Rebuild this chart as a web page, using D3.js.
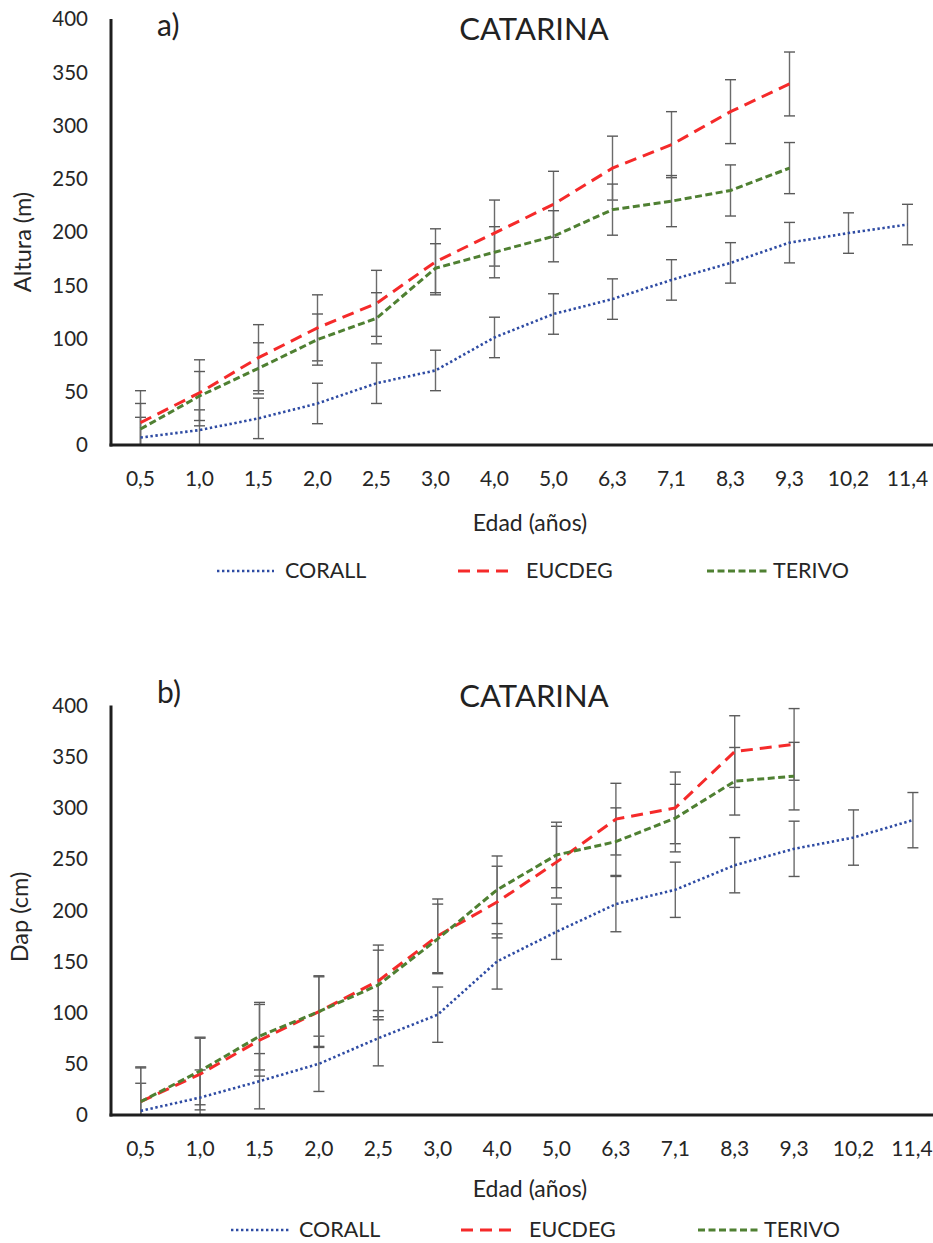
<!DOCTYPE html>
<html><head><meta charset="utf-8">
<script src="https://cdn.jsdelivr.net/npm/d3@7/dist/d3.min.js"></script>
<style>
body{margin:0;background:#fff;}
svg{display:block;font-family:Lato,"Open Sans",sans-serif;}
</style></head>
<body>
<svg id="chart" width="933" height="1243"></svg>
<script>
// ---- data ----
const ages = ["0,5","1,0","1,5","2,0","2,5","3,0","4,0","5,0","6,3","7,1","8,3","9,3","10,2","11,4"];
const seriesNames = ["CORALL","EUCDEG","TERIVO"];
const yTicks = [0,50,100,150,200,250,300,350,400];

// a) Altura
const alturaCORALL = [7,14,25,39,58,70,101,123,137,155,171,190,199,207];
const alturaCORALLerr = [19,19,19,19,19,19,19,19,19,19,19,19,19,19];
const alturaEUCDEG = [21,49,82,110,133,172,199,226,260,282,313,339];
const alturaEUCDEGerr = [30,31,31,31,31,31,31,31,30,31,30,30];
const alturaTERIVO = [15,46,72,99,119,166,181,196,221,229,239,260];
const alturaTERIVOerr = [24,23,24,24,24,23,24,24,24,24,24,24];

// b) Dap
const dapCORALL = [4,17,33,50,75,98,150,179,206,220,244,260,271,288];
const dapCORALLerr = [27,27,27,27,27,27,27,27,27,27,27,27,27,27];
const dapEUCDEG = [13,40,73,101,131,175,208,247,289,300,355,362];
const dapEUCDEGerr = [34,35,35,35,35,36,35,35,35,35,35,35];
const dapTERIVO = [13,43,77,101,127,172,220,254,267,290,326,331];
const dapTERIVOerr = [33,33,33,34,34,34,33,32,33,33,33,33];

const styles = {
  CORALL:{color:"#2E4BA3", dash:"2.4 2.6", width:2.6},
  EUCDEG:{color:"#F52A2A", dash:"12 7", width:3},
  TERIVO:{color:"#4F8032", dash:"7 3.5", width:3}
};

const svg = d3.select("#chart");

function drawChart(cfg){
  const g = svg.append("g");
  const x = d3.scaleBand().domain(ages).range([cfg.x0, cfg.x0 + cfg.step*ages.length]).paddingInner(0).paddingOuter(0);
  const y = d3.scaleLinear().domain([0,400]).range([cfg.yBottom, cfg.yTop]);
  const cx = d => x(d) + x.bandwidth()/2;

  // y tick labels
  g.selectAll(".yt").data(yTicks).enter().append("text")
    .attr("x", cfg.x0 - 23).attr("y", d => y(d)).attr("dy","0.36em")
    .attr("text-anchor","end").attr("font-size",20.5).attr("fill","#262626")
    .text(d => d);

  // x tick labels
  g.selectAll(".xt").data(ages).enter().append("text")
    .attr("x", d => Math.min(cx(d), 933 - 21)).attr("y", cfg.xTickY)
    .attr("text-anchor","middle").attr("font-size",21).attr("fill","#262626")
    .text(d => d);

  // error bars
  const series = cfg.series;
  series.forEach(s => {
    s.values.forEach((v,i) => {
      const a = ages[i];
      const hi = v + s.err[i], lo = Math.max(0, v - s.err[i]);
      const xc = cx(a);
      g.append("line").attr("x1",xc).attr("x2",xc).attr("y1",y(hi)).attr("y2",y(lo))
        .attr("stroke","#6b6b6b").attr("stroke-width",1.4);
      g.append("line").attr("x1",xc-5.5).attr("x2",xc+5.5).attr("y1",y(hi)).attr("y2",y(hi))
        .attr("stroke","#5a5a5a").attr("stroke-width",1.4);
      if (v - s.err[i] > 0){
        g.append("line").attr("x1",xc-5.5).attr("x2",xc+5.5).attr("y1",y(lo)).attr("y2",y(lo))
          .attr("stroke","#5a5a5a").attr("stroke-width",1.4);
      }
    });
  });

  // lines
  const line = d3.line().x((d,i) => cx(ages[i])).y(d => y(d));
  series.forEach(s => {
    const st = styles[s.name];
    g.append("path").datum(s.values).attr("d", line)
      .attr("fill","none").attr("stroke",st.color).attr("stroke-width",st.width)
      .attr("stroke-dasharray",st.dash);
  });

  // axes
  g.append("line").attr("x1",cfg.x0).attr("x2",cfg.x0).attr("y1",cfg.yTop).attr("y2",cfg.yBottom+1.5)
    .attr("stroke","#1e1e1e").attr("stroke-width",3);
  g.append("line").attr("x1",cfg.x0-1.5).attr("x2",933).attr("y1",cfg.yBottom).attr("y2",cfg.yBottom)
    .attr("stroke","#1e1e1e").attr("stroke-width",3);

  // titles
  g.append("text").attr("x",534).attr("y",cfg.titleY).attr("text-anchor","middle")
    .attr("font-size",31).attr("fill","#222").text("CATARINA");
  g.append("text").attr("x",157).attr("y",cfg.titleY - 4).attr("font-size",30).attr("fill","#222").text(cfg.tag);
  g.append("text").attr("transform",`translate(${cfg.yLabX},${cfg.yLabY}) rotate(-90)`)
    .attr("text-anchor","middle").attr("font-size",23.5).attr("fill","#262626").text(cfg.yLabel);
  g.append("text").attr("x",530).attr("y",cfg.xLabY).attr("text-anchor","middle")
    .attr("font-size",23).attr("fill","#262626").text("Edad (años)");

  // legend
  seriesNames.forEach((n,i) => {
    const st = styles[n];
    const lx = cfg.legX[i];
    g.append("line").attr("x1",lx).attr("x2",lx+cfg.legLen[i]).attr("y1",cfg.legY-7).attr("y2",cfg.legY-7)
      .attr("stroke",st.color).attr("stroke-width",st.width).attr("stroke-dasharray",st.dash);
    g.append("text").attr("x",lx+cfg.legLen[i]+cfg.legGap[i]).attr("y",cfg.legY)
      .attr("font-size",21.5).attr("fill","#262626").text(n);
  });
}

drawChart({
  x0:111, step:59, yTop:19, yBottom:445, xTickY:486, titleY:40, tag:"a)",
  yLabel:"Altura (m)", yLabX:31, yLabY:242, xLabY:531,
  legY:578, legX:[217,458,707], legLen:[57,54,61], legGap:[11,14,5],
  series:[
    {name:"CORALL", values:alturaCORALL, err:alturaCORALLerr},
    {name:"EUCDEG", values:alturaEUCDEG, err:alturaEUCDEGerr},
    {name:"TERIVO", values:alturaTERIVO, err:alturaTERIVOerr}
  ]
});

drawChart({
  x0:111, step:59.4, yTop:705.5, yBottom:1115, xTickY:1156, titleY:707, tag:"b)",
  yLabel:"Dap (cm)", yLabX:28, yLabY:917, xLabY:1197,
  legY:1237, legX:[231,461,698], legLen:[59,54,61], legGap:[9,14,5],
  series:[
    {name:"CORALL", values:dapCORALL, err:dapCORALLerr},
    {name:"EUCDEG", values:dapEUCDEG, err:dapEUCDEGerr},
    {name:"TERIVO", values:dapTERIVO, err:dapTERIVOerr}
  ]
});
</script>
</body></html>
